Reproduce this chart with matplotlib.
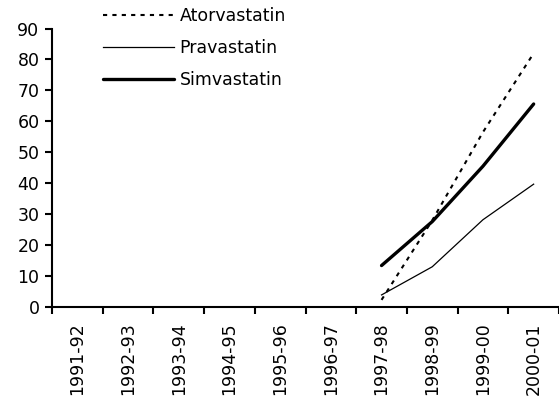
import matplotlib
matplotlib.use("Agg")
import matplotlib.pyplot as plt
import numpy as np

plt.rcParams['font.family'] = ['DejaVu Sans']

years = ["1991-92", "1992-93", "1993-94", "1994-95", "1995-96",
         "1996-97", "1997-98", "1998-99", "1999-00", "2000-01"]
atorvastatin = [None, None, None, None, None, None, 2.3, 28.0, 56.5, 82.0]
pravastatin = [None, None, None, None, None, None, 3.9, 13.0, 28.2, 39.7]
simvastatin = [None, None, None, None, None, None, 13.4, 27.6, 45.5, 65.6]
yticks = [0, 10, 20, 30, 40, 50, 60, 70, 80, 90]

FS = 12.5


def to_arr(vals):
    return np.array([np.nan if v is None else v for v in vals], dtype=float)


fig = plt.figure(figsize=(5.59, 4.03), dpi=100)
ax = fig.add_axes([52 / 559, 1 - 307 / 403, 1 - 52 / 559, (307 - 28.5) / 403])

x = np.arange(len(years))
ax.plot(x, to_arr(atorvastatin), color='black', lw=1.5, dashes=(2, 2.5),
        label='Atorvastatin')
ax.plot(x, to_arr(pravastatin), color='black', lw=0.9, label='Pravastatin')
ax.plot(x, to_arr(simvastatin), color='black', lw=2.4, label='Simvastatin',
        solid_capstyle='round')

ax.set_xlim(-0.5, len(years) - 0.5)
ax.set_ylim(0, 90)
ax.set_yticks(yticks)
ax.set_yticklabels([str(v) for v in yticks], fontsize=FS)

# category labels at centres, tick marks on the boundaries
ax.set_xticks(x)
ax.set_xticklabels(years, rotation=90, fontsize=FS)
ax.tick_params(axis='x', which='major', length=0, pad=11)
ax.set_xticks(np.arange(len(years) + 1) - 0.5, minor=True)
ax.tick_params(axis='x', which='minor', length=5, width=1.5, direction='out')
ax.tick_params(axis='y', length=5, width=1.5, direction='out', pad=4)

for s in ('top', 'right'):
    ax.spines[s].set_visible(False)
for s in ('left', 'bottom'):
    ax.spines[s].set_linewidth(1.5)

leg = ax.legend(loc='upper left', bbox_to_anchor=(103 / 559, 1 - 7 / 403),
                bbox_transform=fig.transFigure, frameon=False,
                fontsize=FS, handlelength=4.1, handletextpad=0.3,
                labelspacing=0.8, borderpad=0, borderaxespad=0)

fig.savefig('out.png', dpi=100)
